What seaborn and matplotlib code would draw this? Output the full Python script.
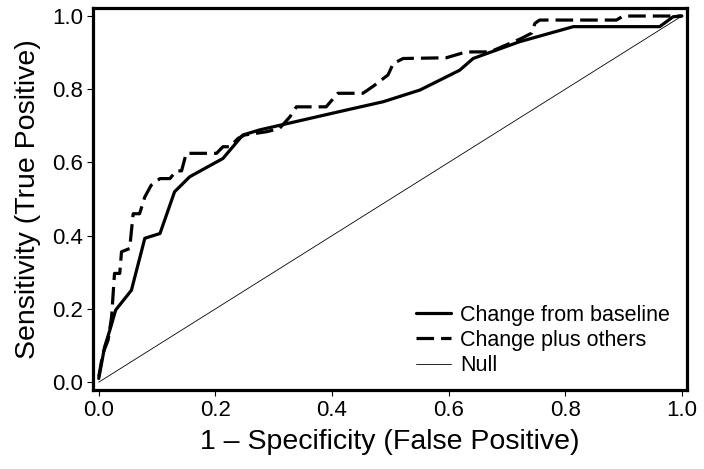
import matplotlib
matplotlib.use("Agg")
import matplotlib.pyplot as plt
import seaborn as sns

# ROC curve points
fpr_base = [0.0, 0.010, 0.019, 0.029, 0.056, 0.079, 0.105, 0.130, 0.156, 0.213, 0.247,
            0.276, 0.413, 0.488, 0.551, 0.619, 0.642, 0.722, 0.814, 0.962, 0.985, 1.0]
tpr_base = [0.01, 0.096, 0.142, 0.197, 0.251, 0.393, 0.406, 0.52, 0.561, 0.611, 0.675,
            0.689, 0.739, 0.766, 0.798, 0.852, 0.884, 0.93, 0.971, 0.971, 0.998, 1.0]

fpr_plus = [0.0, 0.007, 0.016, 0.022, 0.027, 0.036, 0.039, 0.053, 0.059, 0.070, 0.079,
            0.090, 0.105, 0.122, 0.133, 0.142, 0.150, 0.202, 0.213, 0.225, 0.239, 0.250,
            0.288, 0.310, 0.328, 0.339, 0.390, 0.410, 0.453, 0.465, 0.473, 0.496, 0.505,
            0.522, 0.596, 0.630, 0.671, 0.725, 0.742, 0.748, 0.756, 0.888, 0.899, 1.0]
tpr_plus = [0.015, 0.078, 0.115, 0.178, 0.297, 0.297, 0.356, 0.365, 0.46, 0.46, 0.506,
            0.538, 0.556, 0.556, 0.577, 0.577, 0.625, 0.625, 0.643, 0.643, 0.666, 0.675,
            0.684, 0.693, 0.725, 0.752, 0.752, 0.789, 0.789, 0.802, 0.811, 0.839, 0.87,
            0.884, 0.886, 0.902, 0.902, 0.939, 0.953, 0.98, 0.989, 0.989, 1.0, 1.0]

null_x = [0.0, 1.0]
null_y = [0.0, 1.0]

tick_vals = [0.0, 0.2, 0.4, 0.6, 0.8, 1.0]
tick_labels = ["0.0", "0.2", "0.4", "0.6", "0.8", "1.0"]

sns.set_style("ticks")
plt.rcParams['font.family'] = ['Liberation Sans', 'DejaVu Sans']
plt.rcParams['text.color'] = 'black'
plt.rcParams['axes.labelcolor'] = 'black'

fig, ax = plt.subplots(figsize=(7.04, 4.69), dpi=100)
fig.subplots_adjust(left=0.132, right=0.976, top=0.983, bottom=0.168)

sns.lineplot(x=fpr_base, y=tpr_base, ax=ax, color="black", linewidth=2.3,
             sort=False, estimator=None, label="Change from baseline")
sns.lineplot(x=fpr_plus, y=tpr_plus, ax=ax, color="black", linewidth=2.3,
             sort=False, estimator=None, label="Change plus others",
             linestyle=(0, (5.5, 2.2)))
sns.lineplot(x=null_x, y=null_y, ax=ax, color="black", linewidth=0.6,
             sort=False, estimator=None, label="Null")

ax.set_xlim(-0.01, 1.009)
ax.set_ylim(-0.022, 1.022)
ax.set_xticks(tick_vals)
ax.set_xticklabels(tick_labels)
ax.set_yticks(tick_vals)
ax.set_yticklabels(tick_labels)
ax.tick_params(labelsize=16, width=0.8, length=4, colors="black", pad=3)

for side in ["left", "bottom", "right", "top"]:
    ax.spines[side].set_visible(True)
    ax.spines[side].set_linewidth(2.3)
    ax.spines[side].set_color("black")

ax.set_xlabel("1 – Specificity (False Positive)", fontsize=20.5, labelpad=6, color="black")
ax.set_ylabel("Sensitivity (True Positive)", fontsize=20.5, labelpad=8, color="black")

leg = ax.legend(loc="lower right", bbox_to_anchor=(1.004, -0.014), frameon=False,
                fontsize=15.5, handlelength=1.6, handletextpad=0.45, labelspacing=0.2)
for t in leg.get_texts():
    t.set_color("black")

fig.savefig("out.png", dpi=100)
